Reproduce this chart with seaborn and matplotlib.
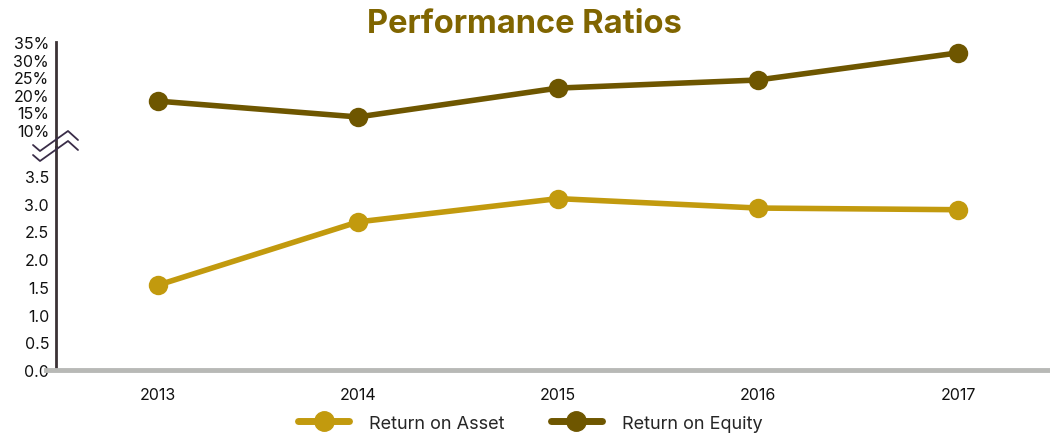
import numpy as np
import pandas as pd
import seaborn as sns
import matplotlib.pyplot as plt
from matplotlib.lines import Line2D

# data
years = [2013, 2014, 2015, 2016, 2017]
roa = [1.53, 2.67, 3.09, 2.92, 2.89]        # Return on Asset
roe = [18.2, 13.7, 21.9, 24.2, 31.9]        # Return on Equity (%)
roa_ticks = [0.0, 0.5, 1.0, 1.5, 2.0, 2.5, 3.0, 3.5]
roe_ticks = [10, 15, 20, 25, 30, 35]

roa_color = '#C29A0E'
roe_color = '#6E5600'
title_color = '#806500'
spine_color = '#3b3235'

sns.set_theme(style='white')
plt.rcParams['font.family'] = ['Inter', 'DejaVu Sans']

df = pd.DataFrame({'year': years, 'roa': roa, 'roe': roe})

fig = plt.figure(figsize=(10.5, 4.35), dpi=100)
ax_top = fig.add_axes([0.0533, 0.6598, 0.9467, 0.2414])
ax_bot = fig.add_axes([0.0533, 0.1471, 0.9467, 0.5126])

sns.lineplot(data=df, x='year', y='roe', ax=ax_top, color=roe_color,
             linewidth=4, marker='o', markersize=14, markeredgewidth=0)
sns.lineplot(data=df, x='year', y='roa', ax=ax_bot, color=roa_color,
             linewidth=4, marker='o', markersize=14, markeredgewidth=0)

for ax in (ax_top, ax_bot):
    ax.set_xlim(2012.49, 2017.46)
    ax.set_xlabel('')
    ax.set_ylabel('')
    ax.set_facecolor('none')
    for s in ('top', 'right'):
        ax.spines[s].set_visible(False)
    ax.spines['left'].set_color(spine_color)
    ax.spines['left'].set_linewidth(2)
    ax.tick_params(axis='both', length=0, labelsize=11.5, colors='#111111', pad=5)

ax_top.set_ylim(5.17, 35)
ax_top.set_yticks(roe_ticks)
ax_top.set_yticklabels([f'{t}%' for t in roe_ticks])
ax_top.set_xticks([])
ax_top.spines['bottom'].set_visible(False)

ax_bot.set_ylim(0, 4.02)
ax_bot.set_yticks(roa_ticks)
ax_bot.set_yticklabels([f'{t:.1f}' for t in roa_ticks])
ax_bot.set_xticks(years)
ax_bot.set_xticklabels([str(y) for y in years])
ax_bot.tick_params(axis='x', pad=12)
ax_bot.spines['bottom'].set_color('#b8b9b6')
ax_bot.spines['bottom'].set_linewidth(3.5)
ax_bot.spines['bottom'].set_bounds(2012.44, 2017.46)

# break marks on the y axis
W, H = 1050, 435
for dy in (0, 10):
    px = np.array([33, 40, 68, 78])
    py = np.array([146, 152, 132, 141]) + dy
    fig.add_artist(Line2D(px / W, 1 - py / H, color='#3a2d48', linewidth=1.3,
                          transform=fig.transFigure))

fig.text(0.499, 0.943, 'Performance Ratios', ha='center', va='center',
         fontsize=23.5, fontweight='bold', color=title_color)

handles = [Line2D([], [], color=roa_color, linewidth=5, marker='o', markersize=14),
           Line2D([], [], color=roe_color, linewidth=5, marker='o', markersize=14)]
fig.legend(handles, ['Return on Asset', 'Return on Equity'], loc='center',
           bbox_to_anchor=(0.505, 0.025), ncol=2, frameon=False, fontsize=13,
           handlelength=2.8, columnspacing=2.6, handletextpad=1.1)

fig.savefig('out.png', dpi=100)
